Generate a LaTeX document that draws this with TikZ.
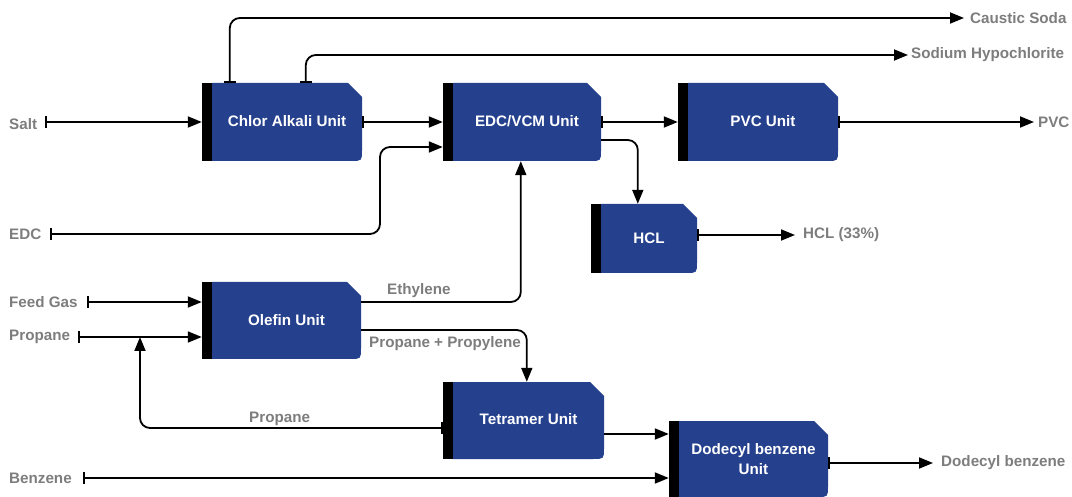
\documentclass[tikz,border=0pt]{standalone}
\usepackage{fontspec}
\setmainfont{Liberation Sans}
\usetikzlibrary{arrows.meta,calc}
\definecolor{unitblue}{RGB}{37,64,141}
\definecolor{labelgray}{RGB}{125,125,125}
\tikzset{
  unit/.style={inner sep=0pt, text=white, align=center,
    font=\fontsize{15.2}{19.5}\selectfont\bfseries,
    path picture={
      \fill[black] (path picture bounding box.north west) rectangle ([xshift=10pt]path picture bounding box.south west);
      \fill[unitblue] ([xshift=10pt]path picture bounding box.south west)
        -- ([xshift=10pt]path picture bounding box.north west)
        -- ([xshift=-14pt]path picture bounding box.north east)
        -- ([yshift=-14pt]path picture bounding box.north east)
        -- ([yshift=11pt]path picture bounding box.south east)
        .. controls (path picture bounding box.south east) .. ([xshift=-11pt]path picture bounding box.south east)
        -- cycle;
    }},
  lbl/.style={inner sep=0pt, anchor=west, text=labelgray,
    font=\fontsize{15.2}{18}\selectfont\bfseries},
  flow/.style={line width=1.8pt, rounded corners=10pt,
    -{Triangle[length=14pt,width=11pt]}},
  tickflow/.style={line width=1.8pt, rounded corners=10pt,
    {Bar[width=12pt]}-{Triangle[length=14pt,width=11pt]}}
}
\begin{document}
\begin{tikzpicture}[x=1pt,y=-1pt]
\useasboundingbox (0,0) rectangle (1072,497);

% units
\node[unit, minimum width=160pt, minimum height=78pt] (chlor) at (282,122) {\hspace*{10pt}\raisebox{3pt}{Chlor Alkali Unit}};
\node[unit, minimum width=158pt, minimum height=78pt] (edcvcm) at (522,122) {\hspace*{10pt}\raisebox{3pt}{EDC/VCM Unit}};
\node[unit, minimum width=160pt, minimum height=78pt] (pvc) at (758,122) {\hspace*{10pt}\raisebox{3pt}{PVC Unit}};
\node[unit, minimum width=106pt, minimum height=69pt] (hcl) at (644,238.5) {\hspace*{10pt}HCL};
\node[unit, minimum width=159pt, minimum height=77pt] (olefin) at (281.5,320.5) {\hspace*{10pt}\raisebox{2pt}{Olefin Unit}};
\node[unit, minimum width=161pt, minimum height=77pt] (tetramer) at (523.5,420.5) {\hspace*{10pt}\raisebox{3pt}{Tetramer Unit}};
\node[unit, minimum width=159pt, minimum height=76pt] (dodecyl) at (748.5,459) {\raisebox{-3pt}{\shortstack{\hspace*{10pt}Dodecyl benzene\\[2pt]\hspace*{10pt}Unit}}};

% labels
\node[lbl] (salt) at (9,124) {Salt};
\node[lbl] (edc) at (9,234) {EDC};
\node[lbl] (feed) at (9,302) {Feed Gas};
\node[lbl] (propane) at (9,337) {Propane};
\node[lbl] (benzene) at (9,478) {Benzene};
\node[lbl] (caustic) at (970,18) {Caustic Soda};
\node[lbl] (hypo) at (911,55) {Sodium Hypochlorite};
\node[lbl] (pvcl) at (1038,122) {PVC};
\node[lbl] (hcll) at (803,235) {HCL (33\%)};
\node[lbl] (dodl) at (941,463) {Dodecyl benzene};
\node[lbl] (ethyl) at (387,291) {Ethylene};
\node[lbl] (pp) at (369,344) {Propane + Propylene};
\node[lbl] (propret) at (249,419) {Propane};

% free ends
\coordinate (saltin) at (45,122);
\coordinate (edcin) at (50,234);
\coordinate (feedin) at (87,302);
\coordinate (propin) at (78,337);
\coordinate (benzin) at (83,478);
\coordinate (causticout) at (964,18);
\coordinate (hypoout) at (908,55);
\coordinate (pvcout) at (1034,122);
\coordinate (hclout) at (795,235);
\coordinate (dodout) at (933,463);
\coordinate (edcbend) at (380,147);
\coordinate (propjoin) at (140,337);
\coordinate (tetout) at ($(tetramer.east)+(0,13.5)$);

% connectors
\draw[tickflow] (saltin) -- (chlor.west);
\draw[tickflow] (edcin) -| (edcbend) -- (edcvcm.west |- edcbend);
\draw[tickflow] (feedin) -- (olefin.west |- feedin);
\draw[tickflow] (propin) -- (olefin.west |- propin);
\draw[tickflow] (benzin) -- (dodecyl.west |- benzin);

\draw[tickflow] ($(chlor.north west)+(28,0)$) |- (causticout);
\draw[tickflow] ($(chlor.north west)+(104,0)$) |- (hypoout);
\draw[tickflow] (chlor.east) -- (edcvcm.west);
\draw[tickflow] (edcvcm.east) -- (pvc.west);
\draw[tickflow] (pvc.east) -- (pvcout);
\draw[flow] ($(edcvcm.east)+(0,18)$) -| ($(hcl.north west)+(47,0)$);
\draw[tickflow] ($(hcl.east)+(0,-3.5)$) -- (hclout);

\draw[flow] ($(olefin.east)+(0,-18.5)$) -| ($(edcvcm.south west)+(78,0)$);
\draw[flow] ($(olefin.east)+(0,9.5)$) -| ($(tetramer.north west)+(84,0)$);
\draw[tickflow] ($(tetramer.west)+(0,7.5)$) -| (propjoin);
\draw[flow] (tetout) -- (dodecyl.west |- tetout);
\draw[tickflow] ($(dodecyl.east)+(0,4)$) -- (dodout);
\end{tikzpicture}
\end{document}
